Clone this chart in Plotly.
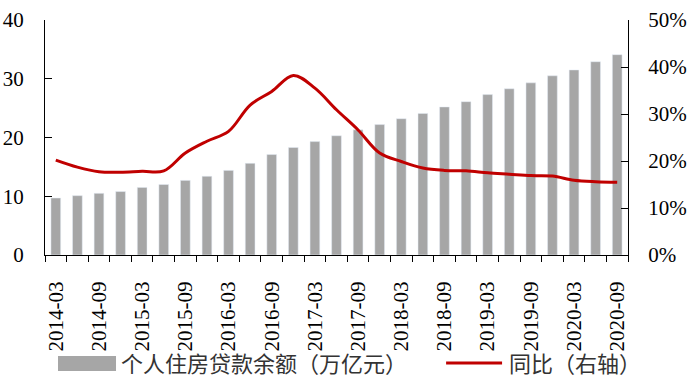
import plotly.graph_objects as go

quarters = ["2014-03", "2014-06", "2014-09", "2014-12", "2015-03", "2015-06", "2015-09",
            "2015-12", "2016-03", "2016-06", "2016-09", "2016-12", "2017-03", "2017-06",
            "2017-09", "2017-12", "2018-03", "2018-06", "2018-09", "2018-12", "2019-03",
            "2019-06", "2019-09", "2019-12", "2020-03", "2020-06", "2020-09"]
loan_balance = [9.7, 10.1, 10.5, 10.8, 11.5, 12.0, 12.7, 13.4, 14.4, 15.6, 17.1, 18.3, 19.3, 20.3,
                21.3, 22.2, 23.2, 24.1, 25.2, 26.1, 27.3, 28.3, 29.3, 30.5, 31.5, 32.9, 34.1]
yoy_growth = [0.202, 0.187, 0.177, 0.176, 0.178, 0.179, 0.217, 0.242, 0.263, 0.319, 0.348, 0.382,
              0.355, 0.309, 0.266, 0.217, 0.199, 0.185, 0.180, 0.179, 0.175, 0.172, 0.169, 0.168,
              0.159, 0.156, 0.155]
bar_name = "个人住房贷款余额（万亿元）"
line_name = "同比（右轴）"

idx = list(range(len(quarters)))
label_pos = idx[::2]
label_txt = quarters[::2]
boundaries = [i - 0.5 for i in range(len(quarters) + 1)]

BAR_COLOR = "#A6A6A6"
LINE_COLOR = "#C00000"
NUM_FONT = dict(family="Liberation Serif", size=21, color="black")
CJK_FONT = dict(family="Noto Sans CJK SC", size=22, color="#333333")

fig = go.Figure()
fig.add_trace(go.Bar(x=idx, y=loan_balance, name=bar_name, marker_color=BAR_COLOR,
                     width=0.45, showlegend=False))
fig.add_trace(go.Scatter(x=idx, y=yoy_growth, name=line_name, yaxis="y2", mode="lines",
                         line=dict(color=LINE_COLOR, width=3, shape="spline", smoothing=1),
                         showlegend=False))

fig.update_layout(
    width=697, height=381,
    margin=dict(l=45, r=69, t=19.5, b=125.5, pad=0),
    paper_bgcolor="white", plot_bgcolor="white",
    xaxis=dict(range=[-0.5, len(quarters) - 0.5], tickmode="array", tickvals=label_pos,
               ticktext=label_txt, tickangle=-90, ticks="", showgrid=False, zeroline=False,
               showline=True, linecolor="black", linewidth=1, tickfont=NUM_FONT,
               ticklabelstandoff=17, automargin=False,
               minor=dict(tickmode="array", tickvals=boundaries, ticks="outside", ticklen=6,
                          tickcolor="black", tickwidth=1, showgrid=False)),
    yaxis=dict(range=[0, 40], dtick=10, ticks="inside", ticklen=7, tickcolor="black",
               showgrid=False, zeroline=False, showline=True, linecolor="black", linewidth=1,
               tickfont=NUM_FONT, ticklabelstandoff=16, automargin=False),
    yaxis2=dict(range=[0, 0.5], dtick=0.1, tickformat=".0%", overlaying="y", side="right",
                ticks="inside", ticklen=7, tickcolor="black", showgrid=False, zeroline=False,
                showline=True, linecolor="black", linewidth=1, tickfont=NUM_FONT,
                ticklabelstandoff=15, automargin=False),
    bargap=0.5,
)

# legend drawn below the plot
fig.add_shape(type="rect", xref="paper", yref="paper", x0=0.0223, x1=0.1218, y0=-0.4936,
              y1=-0.430, fillcolor=BAR_COLOR, line=dict(width=0))
fig.add_annotation(xref="paper", yref="paper", x=0.1275, y=-0.455, text=bar_name,
                   showarrow=False, xanchor="left", yanchor="middle", font=CJK_FONT)
fig.add_shape(type="line", xref="paper", yref="paper", x0=0.688, x1=0.784, y0=-0.4597,
              y1=-0.4597, line=dict(color=LINE_COLOR, width=3))
fig.add_annotation(xref="paper", yref="paper", x=0.793, y=-0.455, text=line_name,
                   showarrow=False, xanchor="left", yanchor="middle", font=CJK_FONT)

fig.write_html("out.html", config={"displayModeBar": False},
               post_script="document.body.style.margin='0';document.body.style.padding='0';")
